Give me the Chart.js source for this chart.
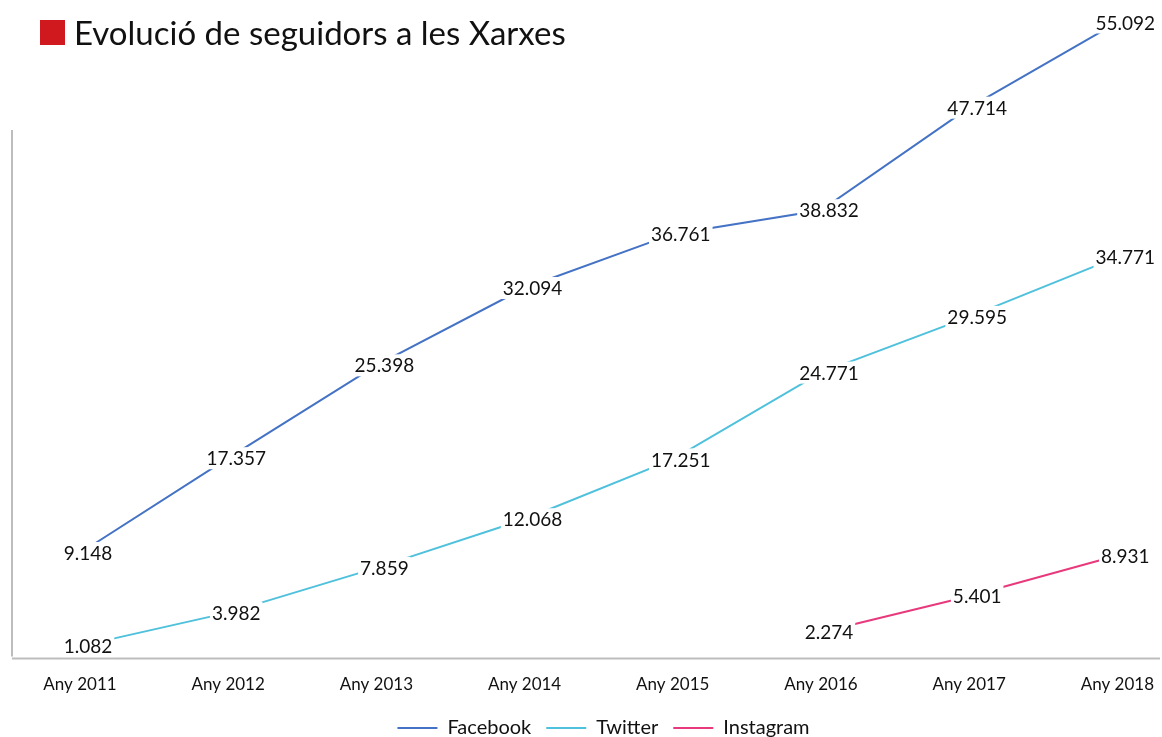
<!DOCTYPE html>
<html><head><meta charset="utf-8">
<script src="https://cdn.jsdelivr.net/npm/chart.js@4.4.1/dist/chart.umd.min.js"></script>
<style>
html,body{margin:0;padding:0;background:#fff;}
#wrap{position:relative;width:1162px;height:737px;}
#title{position:absolute;left:40px;top:12px;font-family:Lato,"Noto Sans",sans-serif;font-size:33px;color:#111;display:flex;align-items:center;}
#title span.sq{display:inline-block;width:25px;height:25px;background:#d0191f;margin-right:9px;}
canvas{position:absolute;left:0;top:0;}
</style></head>
<body><div id="wrap">
<canvas id="c" width="1162" height="737"></canvas>
<div id="title"><span class="sq"></span>Evolució de seguidors a les Xarxes</div>
</div>
<script>
const categories = ["Any 2011","Any 2012","Any 2013","Any 2014","Any 2015","Any 2016","Any 2017","Any 2018"];
const facebook = [9148,17357,25398,32094,36761,38832,47714,55092];
const twitter = [1082,3982,7859,12068,17251,24771,29595,34771];
const instagram = [null,null,null,null,null,2274,5401,8931];

const fmt = v => String(v).replace(/\B(?=(\d{3})+(?!\d))/g, ".");

const labelPlugin = {
  id:'labels',
  afterDatasetsDraw(chart){
    const ctx = chart.ctx;
    ctx.save();
    ctx.font = '19px Lato, "Noto Sans", sans-serif';
    ctx.textAlign='center'; ctx.textBaseline='middle';
    chart.data.datasets.forEach((ds,di)=>{
      const meta = chart.getDatasetMeta(di);
      meta.data.forEach((pt,i)=>{
        const v = ds.data[i];
        if(v===null||v===undefined) return;
        const t = fmt(v);
        const w = ctx.measureText(t).width;
        const x = pt.x+8, y = pt.y;
        ctx.fillStyle='#fff';
        ctx.fillRect(x-w/2-2,y-11,w+4,22);
        ctx.fillStyle='#111';
        ctx.fillText(t,x,y+1);
      });
    });
    ctx.restore();
  }
};
const axisPlugin = {
  id:'axes',
  beforeDatasetsDraw(chart){
    const ctx=chart.ctx; const y0=chart.scales.y.getPixelForValue(0);
    ctx.save();
    ctx.strokeStyle='#bdbdbd'; ctx.lineWidth=2;
    ctx.beginPath(); ctx.moveTo(12,y0); ctx.lineTo(1160,y0); ctx.stroke();
    ctx.beginPath(); ctx.moveTo(12,130); ctx.lineTo(12,y0-2); ctx.stroke();
    ctx.restore();
  }
};

new Chart(document.getElementById('c'),{
  type:'line',
  data:{labels:categories,datasets:[
    {label:'Facebook',data:facebook,borderColor:'#4472c4',backgroundColor:'#4472c4',borderWidth:2,pointRadius:0,tension:0},
    {label:'Twitter',data:twitter,borderColor:'#4fc1dc',backgroundColor:'#4fc1dc',borderWidth:2,pointRadius:0,tension:0},
    {label:'Instagram',data:instagram,borderColor:'#e8397d',backgroundColor:'#e8397d',borderWidth:2,pointRadius:0,tension:0}
  ]},
  options:{
    responsive:false,animation:false,
    layout:{padding:{left:80,right:35,top:12,bottom:-11}},
    clip:false,
    plugins:{
      legend:{position:'bottom',labels:{usePointStyle:true,pointStyle:'line',pointStyleWidth:40,boxHeight:2,color:'#111',font:{family:'Lato, "Noto Sans", sans-serif',size:20},padding:15}},
      tooltip:{enabled:false}
    },
    scales:{
      x:{offset:false,grid:{display:false},border:{display:false},ticks:{color:'#111',font:{family:'Lato, "Noto Sans", sans-serif',size:17},maxRotation:0,padding:8}},
      y:{display:false,min:0,max:56000}
    }
  },
  plugins:[axisPlugin,labelPlugin]
});
</script>
</body></html>
